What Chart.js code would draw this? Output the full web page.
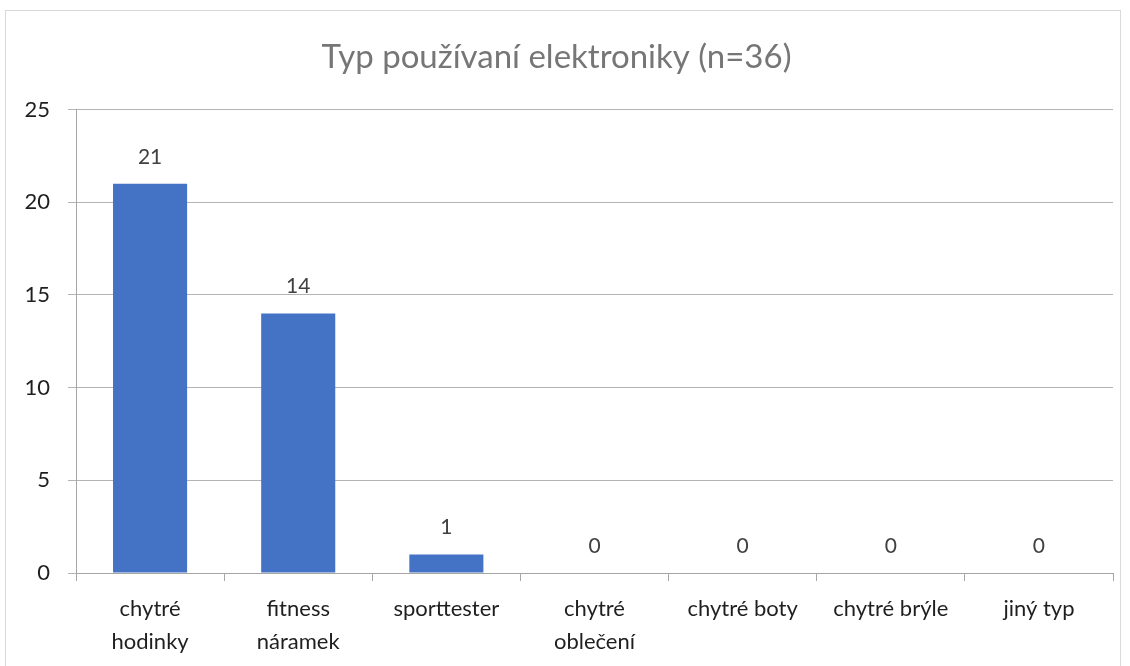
<!DOCTYPE html>
<html>
<head>
<meta charset="utf-8">
<script src="https://cdn.jsdelivr.net/npm/chart.js@4/dist/chart.umd.min.js"></script>
<style>
  html, body { margin: 0; padding: 0; background: #fff; }
  #wrap { position: relative; width: 1130px; height: 666px; overflow: hidden; }
  #frame { position: absolute; left: 5px; top: 10px; width: 1116px; height: 700px; border: 1px solid #d9d9d9; box-sizing: border-box; }
  #chart { position: absolute; left: 0; top: 0; }
</style>
</head>
<body>
<div id="wrap">
  <div id="frame"></div>
  <canvas id="chart" width="1130" height="666"></canvas>
</div>
<script>
  const categories = [
    ['chytré', 'hodinky'],
    ['fitness', 'náramek'],
    'sporttester',
    ['chytré', 'oblečení'],
    'chytré boty',
    'chytré brýle',
    'jiný typ'
  ];
  const counts = [21, 14, 1, 0, 0, 0, 0];
  const yTicks = [0, 5, 10, 15, 20, 25];

  const FONT = 'Lato, "Open Sans", sans-serif';

  // value labels above each bar
  const valueLabels = {
    id: 'valueLabels',
    afterDatasetsDraw(chart) {
      const ctx = chart.ctx;
      const meta = chart.getDatasetMeta(0);
      ctx.save();
      ctx.font = '21px ' + FONT;
      ctx.fillStyle = '#404040';
      ctx.textAlign = 'center';
      ctx.textBaseline = 'middle';
      meta.data.forEach((bar, i) => {
        ctx.fillText(String(counts[i]), bar.x, bar.y - 27);
      });
      ctx.restore();
    }
  };

  new Chart(document.getElementById('chart'), {
    type: 'bar',
    data: {
      labels: categories,
      datasets: [{
        data: counts,
        backgroundColor: '#4472C4',
        borderWidth: 0,
        categoryPercentage: 1,
        barPercentage: 0.5
      }]
    },
    options: {
      responsive: false,
      animation: false,
      layout: { padding: { left: 0, right: 17, top: 0, bottom: 0 } },
      plugins: {
        legend: { display: false },
        tooltip: { enabled: false },
        title: {
          display: true,
          text: 'Typ používaní elektroniky (n=36)',
          color: '#767676',
          font: { family: FONT, size: 33, weight: 'normal' },
          padding: { top: 38, bottom: 32 }
        }
      },
      scales: {
        x: {
          grid: {
            offset: true,
            drawOnChartArea: false,
            drawTicks: true,
            tickLength: 8,
            color: '#a6a6a6'
          },
          border: { color: '#a6a6a6' },
          ticks: {
            color: '#1f1f1f',
            font: { family: FONT, size: 22, lineHeight: 1.5 },
            padding: 11,
            maxRotation: 0,
            autoSkip: false
          },
          afterFit(scale) { scale.height = 93; }
        },
        y: {
          min: 0,
          max: 25,
          afterBuildTicks(scale) { scale.ticks = yTicks.map(v => ({ value: v })); },
          grid: {
            color: '#b4b4b4',
            drawTicks: true,
            tickLength: 8
          },
          border: { color: '#a6a6a6' },
          ticks: {
            color: '#1f1f1f',
            font: { family: FONT, size: 22 },
            padding: 18
          },
          afterFit(scale) { scale.width = 76; }
        }
      }
    },
    plugins: [valueLabels]
  });
</script>
</body>
</html>
